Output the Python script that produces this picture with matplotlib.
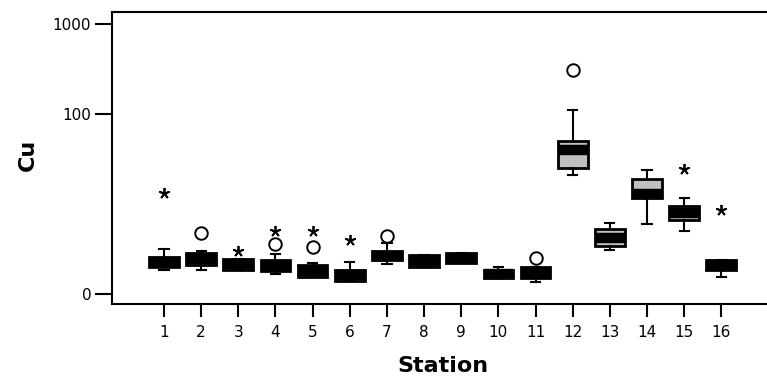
import numpy as np
import matplotlib.pyplot as plt

# Cu box statistics per station
stations = list(range(1, 17))
whislo = [0.85, 0.85, 0.85, 0.67, 0.53, 0.41, 1.16, 1.02, 1.20, 0.50, 0.35, 19.8, 2.09, 5.0, 3.95, 0.56]
q1 = [1.02, 1.10, 0.85, 0.82, 0.53, 0.41, 1.36, 1.02, 1.20, 0.50, 0.52, 24.1, 2.42, 10.6, 5.67, 0.85]
med = [1.29, 1.45, 1.13, 1.07, 0.80, 0.62, 1.65, 1.33, 1.50, 0.67, 0.73, 39.2, 3.2, 12.0, 6.98, 1.10]
q3 = [1.60, 1.88, 1.45, 1.36, 1.10, 0.85, 2.00, 1.72, 1.84, 0.85, 0.98, 48.7, 4.25, 18.0, 8.4, 1.39]
whishi = [2.15, 2.00, 1.45, 1.79, 1.20, 1.29, 2.68, 1.72, 1.84, 0.98, 0.98, 111, 5.13, 23.0, 10.8, 1.39]

# outliers (circles) and extremes (stars)
out_st = [2, 4, 5, 7, 11, 12]
out_val = [3.75, 2.6, 2.32, 3.45, 1.50, 305]
ext_st = [1, 3, 4, 5, 6, 15, 16]
ext_val = [12.2, 2.0, 4.0, 3.95, 3.0, 23.7, 7.6]

yticks = [0, 100, 1000]


def fwd(v):
    return np.log10(np.maximum(np.asarray(v, dtype=float) + 1, 1e-9))


def inv(t):
    return 10 ** np.asarray(t, dtype=float) - 1


fig = plt.figure(figsize=(7.67, 3.82), dpi=100)
ax = fig.add_axes([112 / 767, 1 - 304 / 382, 1 - 112 / 767, 292 / 382])
ax.set_yscale('function', functions=(fwd, inv))

stats = []
for i in range(len(stations)):
    stats.append(dict(med=med[i], q1=q1[i], q3=q3[i],
                      whislo=whislo[i], whishi=whishi[i], fliers=[]))

ax.bxp(stats, positions=stations, widths=0.8, capwidths=0.25,
       showfliers=False, patch_artist=True,
       boxprops=dict(facecolor='#c0c0c0', edgecolor='black', linewidth=2),
       medianprops=dict(color='black', linewidth=7.5, solid_capstyle='butt'),
       whiskerprops=dict(color='black', linewidth=1.5),
       capprops=dict(color='black', linewidth=1.5))

ax.plot(out_st, out_val, 'o', ms=9, mfc='white', mec='black', mew=1.4, ls='none')
ax.plot(ext_st, ext_val, marker=(5, 2, 0), ms=8, color='black', mew=1.3, ls='none')

ax.set_xlim(-0.40, 17.23)
ax.set_ylim(-0.226, 1357)
ax.set_xticks(stations)
ax.set_xticklabels([str(s) for s in stations])
ax.set_yticks(yticks)
ax.set_yticklabels([str(v) for v in yticks])
ax.yaxis.set_minor_locator(plt.NullLocator())

for s in ['left', 'top', 'bottom']:
    ax.spines[s].set_linewidth(1.5)
ax.spines['right'].set_visible(False)
ax.tick_params(axis='y', length=12, width=1.5, pad=3, labelsize=11)
ax.tick_params(axis='x', length=9, width=1.5, pad=6, labelsize=11)

ax.set_ylabel('Cu', fontsize=16, fontweight='bold')
ax.yaxis.set_label_coords(-0.113, 0.51)
ax.set_xlabel('Station', fontsize=16, fontweight='bold')
ax.xaxis.set_label_coords(0.5046, -0.178)

fig.savefig('out.png', dpi=100)
